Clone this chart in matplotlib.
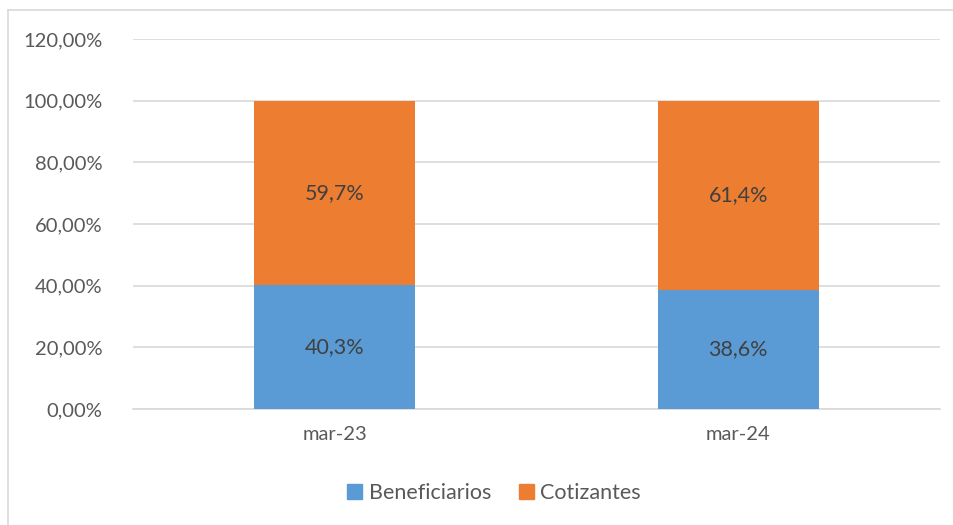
import matplotlib
matplotlib.use("Agg")
import matplotlib.pyplot as plt
from matplotlib.lines import Line2D

categories = ["mar-23", "mar-24"]
beneficiarios = [40.3, 38.6]
cotizantes = [59.7, 61.4]
yticks = [0, 20, 40, 60, 80, 100, 120]
ytick_labels = ["0,00%", "20,00%", "40,00%", "60,00%", "80,00%", "100,00%", "120,00%"]

plt.rcParams['font.family'] = ['Lato', 'DejaVu Sans']
W, H = 954, 525
fig = plt.figure(figsize=(W/100, H/100), dpi=100)
ax = fig.add_axes([133/W, 1-409/H, (940-133)/W, (409-39)/H])

blue = "#5B9BD5"
orange = "#ED7D31"
txt = "#595959"
x = list(range(len(categories)))
ax.bar(x, beneficiarios, width=0.4, color=blue, zorder=3, label="Beneficiarios")
ax.bar(x, cotizantes, width=0.4, bottom=beneficiarios, color=orange, zorder=3, label="Cotizantes")

for i in x:
    ax.text(i, beneficiarios[i]/2, f"{beneficiarios[i]:.1f}%".replace(".", ","),
            ha="center", va="center", fontsize=15.5, color="#404040", zorder=4)
    ax.text(i, beneficiarios[i] + cotizantes[i]/2, f"{cotizantes[i]:.1f}%".replace(".", ","),
            ha="center", va="center", fontsize=15.5, color="#404040", zorder=4)

ax.set_xlim(-0.5, 1.5)
ax.set_ylim(0, 120)
ax.set_yticks(yticks)
ax.set_yticklabels(ytick_labels)
ax.set_xticks(x)
ax.set_xticklabels(categories)
ax.grid(axis="y", color="#D9D9D9", linewidth=1.2, zorder=0)
for s in ["top", "right", "left"]:
    ax.spines[s].set_visible(False)
ax.spines["bottom"].set_color("#D9D9D9")
ax.spines["bottom"].set_linewidth(1.2)
ax.tick_params(axis="both", length=0, labelsize=14.5, colors=txt)
ax.tick_params(axis="y", pad=22)
ax.tick_params(axis="x", pad=12)

handles = [plt.Rectangle((0, 0), 1, 1, color=blue), plt.Rectangle((0, 0), 1, 1, color=orange)]
fig.legend(handles, ["Beneficiarios", "Cotizantes"], loc="center", bbox_to_anchor=(494/W, 1-493/H),
           ncol=2, frameon=False, fontsize=15.5, handlelength=0.7, handleheight=0.7,
           handletextpad=0.3, columnspacing=1.3, labelcolor=txt)

# chart border (left and top visible)
fig.add_artist(Line2D([8/W, 8/W], [0, 1-10/H], color="#D9D9D9", linewidth=1.2, transform=fig.transFigure))
fig.add_artist(Line2D([8/W, 1], [1-10/H, 1-10/H], color="#D9D9D9", linewidth=1.2, transform=fig.transFigure))

fig.savefig("out.png", dpi=100)
